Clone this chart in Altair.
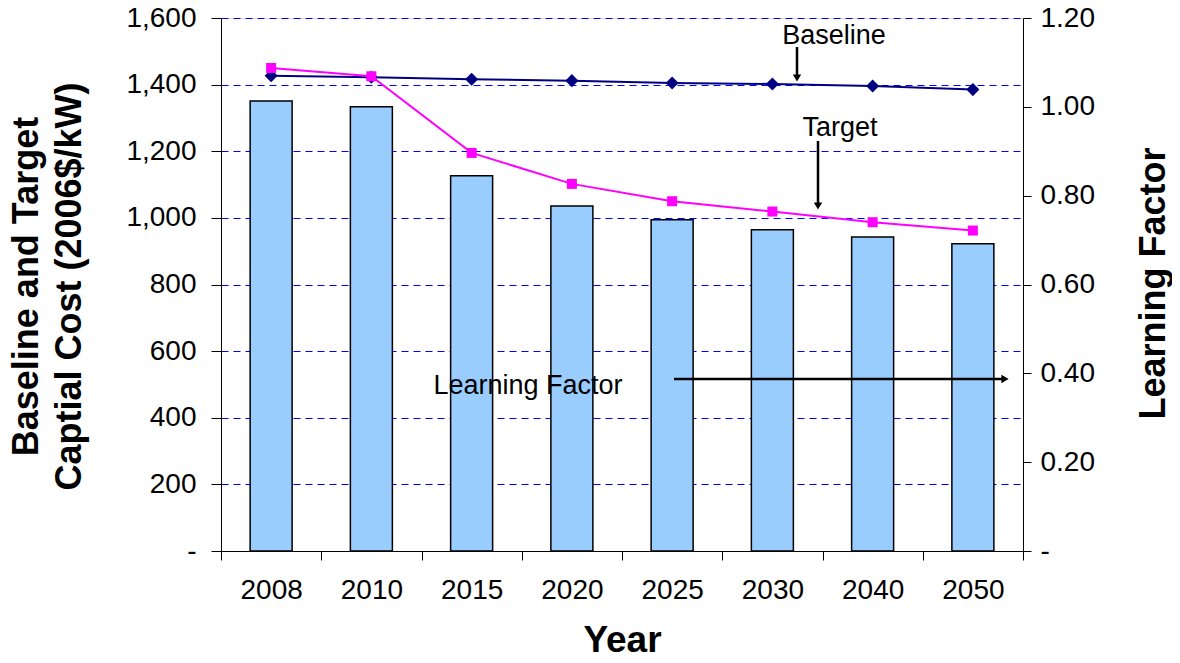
import altair as alt
import pandas as pd

years = ["2008", "2010", "2015", "2020", "2025", "2030", "2040", "2050"]
learning_factor = [1.013, 1.000, 0.845, 0.777, 0.746, 0.723, 0.707, 0.692]
baseline = [1427, 1422, 1416, 1412, 1405, 1402, 1396, 1385]
target = [1450, 1425, 1195, 1102, 1050, 1019, 987, 962]

left_ticks = [0, 200, 400, 600, 800, 1000, 1200, 1400, 1600]
right_ticks = [0, 0.2, 0.4, 0.6, 0.8, 1.0, 1.2]

FONT = "Liberation Sans"
W, H = 802, 533

df_bar = pd.DataFrame({"Year": years, "LF": learning_factor})
df_base = pd.DataFrame({"Year": years, "Cost": baseline})
df_tgt = pd.DataFrame({"Year": years, "Cost": target})

x_scale = alt.Scale(domain=years, paddingInner=0, paddingOuter=0)
x_axis = alt.Axis(
    title="Year", titleFont=FONT, titleFontSize=37, titleFontWeight="bold",
    titleColor="black", titleX=401, titleY=89, titleBaseline="middle",
    labelFont=FONT, labelFontSize=28, labelColor="black", labelAngle=0,
    labelPadding=16, tickSize=9, tickColor="black", domainColor="black",
    tickBand="extent", grid=False,
)

bars = alt.Chart(df_bar).mark_bar(
    size=42, color="#99CCFF", stroke="black", strokeWidth=1.5
).encode(
    x=alt.X("Year:N", scale=x_scale, axis=x_axis, sort=years),
    y=alt.Y(
        "LF:Q",
        scale=alt.Scale(domain=[0, 1.2], nice=False),
        axis=alt.Axis(
            orient="right", values=right_ticks, grid=False,
            labelExpr="datum.value == 0 ? '-' : format(datum.value, '.2f')",
            labelFont=FONT, labelFontSize=28, labelColor="black",
            labelPadding=9, tickSize=8, tickColor="black", domainColor="black",
            title="Learning Factor", titleFont=FONT, titleFontSize=36,
            titleFontWeight="bold", titleColor="black", titleAngle=270,
            titleX=130, titleY=265, titleBaseline="middle", titleAlign="center",
        ),
    ),
)

left_axis = alt.Axis(
    orient="left", values=left_ticks, grid=True, gridColor="#0000FF",
    gridDash=[7, 5], gridWidth=1,
    labelExpr="datum.value == 0 ? '-' : format(datum.value, ',')",
    labelFont=FONT, labelFontSize=28, labelColor="black",
    labelPadding=15, tickSize=10, tickColor="black", domainColor="black",
    title=["Baseline and Target", "Captial Cost (2006$/kW)"],
    titleFont=FONT, titleFontSize=36, titleFontWeight="bold", titleColor="black",
    titleLineHeight=43, titleAngle=270, titleX=-195, titleY=268,
    titleBaseline="middle", titleAlign="center",
)
y_left = alt.Scale(domain=[0, 1600], nice=False)

base_line = alt.Chart(df_base).mark_line(
    color="#000080", strokeWidth=2,
    point=alt.OverlayMarkDef(shape="diamond", size=170, filled=True, color="#000080"),
).encode(
    x=alt.X("Year:N", scale=x_scale, axis=x_axis, sort=years),
    y=alt.Y("Cost:Q", scale=y_left, axis=left_axis),
)

tgt_line = alt.Chart(df_tgt).mark_line(
    color="#FF00FF", strokeWidth=2,
    point=alt.OverlayMarkDef(shape="square", size=100, filled=True, color="#FF00FF"),
).encode(
    x=alt.X("Year:N", scale=x_scale, axis=x_axis, sort=years),
    y=alt.Y("Cost:Q", scale=y_left, axis=left_axis),
)

lines = alt.layer(base_line, tgt_line)

one = pd.DataFrame({"k": [0]})


def label(text, x, y):
    return alt.Chart(one).mark_text(
        text=text, font=FONT, fontSize=27, color="black",
        align="center", baseline="alphabetic",
    ).encode(x=alt.value(x), y=alt.value(y))


def rule(x1, y1, x2, y2):
    return alt.Chart(one).mark_rule(color="black", strokeWidth=2.5).encode(
        x=alt.value(x1), y=alt.value(y1), x2=alt.value(x2), y2=alt.value(y2)
    )


def head(shape, x, y):
    return alt.Chart(one).mark_point(
        shape=shape, filled=True, color="black", opacity=1, size=70
    ).encode(x=alt.value(x), y=alt.value(y))


annots = [
    label("Baseline", 613, 26),
    rule(576, 29, 576, 60),
    head("triangle-down", 576, 60),
    label("Target", 619, 118),
    rule(597, 123, 597, 188),
    head("triangle-down", 597, 188),
    label("Learning Factor", 307, 376),
    rule(453, 361, 784, 361),
    head("triangle-right", 784, 361),
]

chart = alt.layer(bars, lines, *annots).resolve_scale(y="independent").properties(
    width=W, height=H,
    autosize=alt.AutoSizeParams(type="none"),
    padding={"left": 213, "top": 10, "right": 149, "bottom": 104},
).configure_view(stroke=None).configure(background="white")

chart.save("out.html", embed_options={"renderer": "svg", "actions": False})
